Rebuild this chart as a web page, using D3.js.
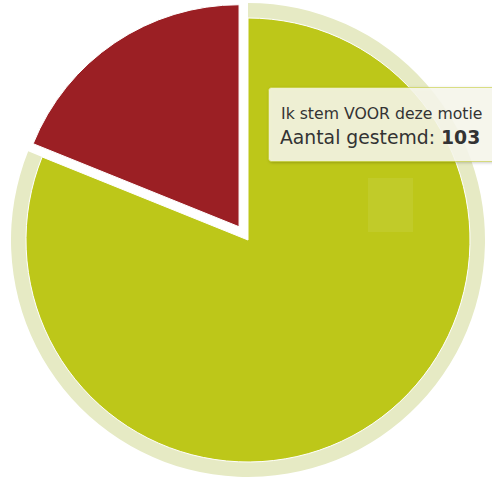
<!DOCTYPE html>
<html><head><meta charset="utf-8">
<script src="https://cdn.jsdelivr.net/npm/d3@7/dist/d3.min.js"></script>
<style>html,body{margin:0;padding:0;background:#fff;}svg{display:block;}</style>
</head><body>
<svg id="chart" width="492" height="482"></svg>
<script>
const categories = ["Ik stem VOOR deze motie", "Ik stem TEGEN deze motie"];
const values = [103, 24];
const colors = ["#bdc719", "#9b1f24"];
const hoveredIndex = 0;
const slicedIndex = 1;
const tooltipValueLabel = "Aantal gestemd: ";

const svg = d3.select("#chart");
const cx = 248, cy = 240, r = 222, haloSize = 15, slicedOffset = 16;

const pie = d3.pie().sort(null).value(d => d).startAngle(0).endAngle(2 * Math.PI);
const arcs = pie(values);
const arc = d3.arc().innerRadius(0).outerRadius(r);
const halo = d3.arc().innerRadius(r).outerRadius(r + haloSize);

const g = svg.append("g").attr("transform", `translate(${cx},${cy})`);

// halo on hovered slice
g.append("path")
  .attr("d", halo(arcs[hoveredIndex]))
  .attr("fill", "#e6eac4");

g.selectAll("path.slice").data(arcs).join("path")
  .attr("class", "slice")
  .attr("d", arc)
  .attr("fill", (d, i) => colors[i])
  .attr("stroke", "#fff")
  .attr("stroke-width", 1)
  .attr("transform", (d, i) => {
    if (i !== slicedIndex) return null;
    const a = (d.startAngle + d.endAngle) / 2;
    return `translate(${Math.sin(a) * slicedOffset},${-Math.cos(a) * slicedOffset})`;
  });

// faint highlight square
svg.append("rect").attr("x", 368).attr("y", 178).attr("width", 45).attr("height", 54)
  .attr("fill", "#fff").attr("opacity", 0.07);

// tooltip
const defs = svg.append("defs");
const f = defs.append("filter").attr("id", "sh").attr("x", "-10%").attr("y", "-20%").attr("width", "130%").attr("height", "160%");
f.append("feDropShadow").attr("dx", 1).attr("dy", 1).attr("stdDeviation", 1.5).attr("flood-color", "#000").attr("flood-opacity", 0.25);

const tt = svg.append("g");
tt.append("rect")
  .attr("x", 268.5).attr("y", 87.5).attr("width", 240).attr("height", 74).attr("rx", 3)
  .attr("fill", "rgba(248,248,238,0.86)")
  .attr("stroke", colors[hoveredIndex]).attr("stroke-opacity", 0.5).attr("stroke-width", 1)
  .attr("filter", "url(#sh)");
tt.append("text").attr("x", 281).attr("y", 119)
  .attr("font-family", "DejaVu Sans, Verdana, sans-serif").attr("font-size", 15.7)
  .attr("fill", "#333").text(categories[hoveredIndex]);
const t2 = tt.append("text").attr("x", 280).attr("y", 144)
  .attr("font-family", "DejaVu Sans, Verdana, sans-serif").attr("font-size", 18.8)
  .attr("fill", "#333");
t2.append("tspan").text(tooltipValueLabel);
t2.append("tspan").attr("font-weight", "bold").text(values[hoveredIndex]);
</script>
</body></html>
